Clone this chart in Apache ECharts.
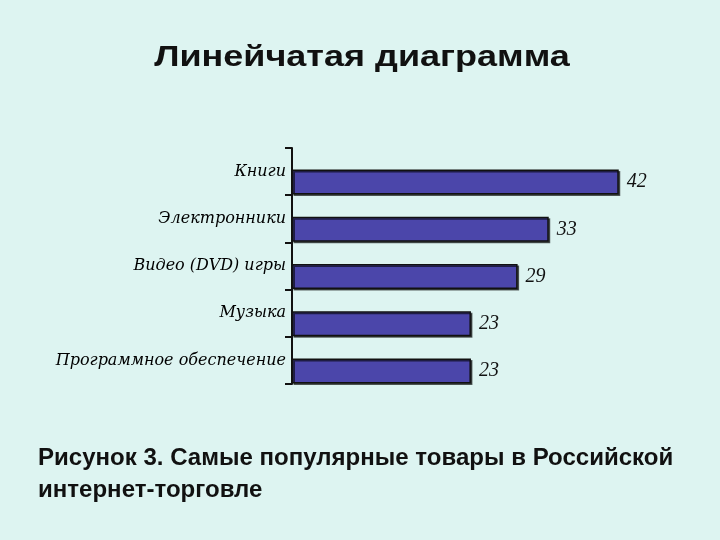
<!DOCTYPE html>
<html>
<head>
<meta charset="utf-8">
<script src="https://cdn.jsdelivr.net/npm/echarts@6/dist/echarts.min.js"></script>
<style>
html,body{margin:0;padding:0;background:#ddf4f1;}
#c{width:720px;height:540px;}
</style>
</head>
<body>
<div id="c"></div>
<script>
const categories = ['Книги', 'Электронники', 'Видео (DVD) игры', 'Музыка', 'Программное обеспечение'];
const values = [42, 33, 29, 23, 23];
const titleText = 'Линейчатая диаграмма';
const captionLines = ['Рисунок 3. Самые популярные товары в Российской', 'интернет-торговле'];

const chart = echarts.init(document.getElementById('c'), null, {renderer: 'canvas'});
chart.setOption({
  backgroundColor: '#ddf4f1',
  animation: false,
  graphic: [{
    type: 'text',
    x: 362,
    y: 58,
    scaleX: 1.2,
    style: {
      text: titleText,
      x: 0, y: 0,
      align: 'center',
      verticalAlign: 'middle',
      font: 'bold 30px "Liberation Sans"',
      fill: '#111'
    }
  }, {
    type: 'text',
    x: 38,
    y: 443,
    scaleX: 1.045,
    style: {
      text: captionLines.join('\n'),
      x: 0, y: 0,
      font: 'bold 23px "Liberation Sans"',
      lineHeight: 32,
      fill: '#111'
    }
  }],
  grid: {left: 292, top: 148, width: 389, height: 236, containLabel: false},
  xAxis: {
    type: 'value', min: 0, max: 50,
    show: false
  },
  yAxis: {
    type: 'category',
    data: categories,
    inverse: true,
    axisLine: {lineStyle: {color: '#111', width: 2}},
    axisTick: {show: true, length: 7, lineStyle: {color: '#111', width: 2}},
    axisLabel: {
      fontFamily: 'DejaVu Serif', fontStyle: 'italic', fontSize: 16,
      color: '#000', margin: 6
    }
  },
  series: [
    {
      type: 'bar',
      data: values.map(() => null),
      barWidth: 21,
      barGap: '0%',
      silent: true
    },
    {
      type: 'bar',
      data: values,
      barWidth: 25,
      barGap: '0%',
      itemStyle: {
        color: '#4b46aa',
        borderColor: '#111',
        borderWidth: 1.5,
        shadowColor: 'rgba(0,0,0,0.6)',
        shadowOffsetX: 1.5,
        shadowOffsetY: 1.5
      },
      label: {
        show: true,
        position: 'right',
        distance: 8,
        fontFamily: 'Liberation Serif',
        fontStyle: 'italic',
        fontSize: 20,
        color: '#111'
      }
    }
  ]
});
</script>
</body>
</html>
